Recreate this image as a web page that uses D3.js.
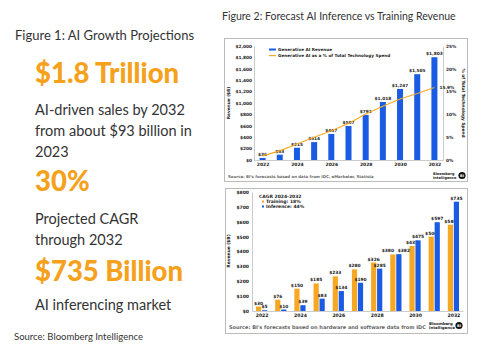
<!DOCTYPE html>
<html>
<head>
<meta charset="utf-8">
<script src="https://cdn.jsdelivr.net/npm/d3@7"></script>
<style>
  body { margin: 0; background: #fff; }
  svg { display: block; }
  .chartTxt { font-family: "DejaVu Sans", Verdana, sans-serif; font-weight: bold; fill: #222; }
  .fig { font-family: Lato, "Open Sans", sans-serif; }
</style>
</head>
<body>
<div id="chart"></div>
<script>
// figure 2, top panel
const years = [2022, 2023, 2024, 2025, 2026, 2027, 2028, 2029, 2030, 2031, 2032];
const genAiRevenue = [36, 93, 215, 314, 457, 597, 791, 1018, 1247, 1505, 1803];
const genAiShare = [0.9, 2.0, 3.5, 5.0, 6.4, 8.0, 10.1, 11.8, 13.4, 14.6, 15.9];
const revTicks = [0, 200, 400, 600, 800, 1000, 1200, 1400, 1600, 1800, 2000];
const shareTicks = [0, 5, 10, 15, 20, 25];

// figure 2, bottom panel
const training = [30, 76, 150, 185, 233, 280, 326, 380, 437, 500, 580];
const inference = [5, 10, 39, 83, 134, 190, 285, 382, 475, 597, 735];
const splitTicks = [0, 100, 200, 300, 400, 500, 600, 700, 800];
const yearLabels = [2022, 2024, 2026, 2028, 2030, 2032];

// figure 1 text
const headlines = [
    {big: "$1.8 Trillion", lines: ["AI-driven sales by 2032", "from about $93 billion in", "2023"]},
    {big: "30%", lines: ["Projected CAGR", "through 2032"]},
    {big: "$735 Billion", lines: ["AI inferencing market"]}
];

const W = 492, H = 345;
const orange = "#f7a823", blue = "#1a5be3", txtOrange = "#f5a11c";
const money = d => "$" + d3.format(",")(d);

const svg = d3.select("#chart").append("svg")
    .attr("width", W).attr("height", H);
svg.append("rect").attr("width", W).attr("height", H).attr("fill", "#fff");

// ---------- Figure 1 ----------
const leftG = svg.append("g").attr("class", "fig");
leftG.append("text").attr("x", 15).attr("y", 40)
    .attr("font-size", 13).attr("fill", "#333")
    .text("Figure 1: AI Growth Projections");

const bigY = [83, 191, 281];
const lineY = [[115, 136, 157], [224, 245], [310]];
headlines.forEach((h, i) => {
    leftG.append("text").attr("x", 35).attr("y", bigY[i])
        .attr("font-size", 27.5).attr("font-weight", 900).attr("fill", txtOrange)
        .text(h.big);
    h.lines.forEach((l, j) => {
        leftG.append("text").attr("x", 35).attr("y", lineY[i][j])
            .attr("font-size", 14.5).attr("fill", "#333").text(l);
    });
});
leftG.append("text").attr("x", 14).attr("y", 340)
    .attr("font-size", 9.5).attr("fill", "#333")
    .text("Source: Bloomberg Intelligence");

svg.append("text").attr("class", "fig").attr("x", 222).attr("y", 20)
    .attr("font-size", 10.5).attr("fill", "#333")
    .text("Figure 2: Forecast AI Inference vs Training Revenue");

function biLogo(g, x, y, sz, off) {
    g.append("text").attr("class", "chartTxt").attr("x", x).attr("y", y - 0.5)
        .attr("font-size", sz).attr("font-weight", "normal").text("Bloomberg");
    g.append("text").attr("class", "chartTxt").attr("x", x).attr("y", y + sz)
        .attr("font-size", sz).attr("font-weight", "normal").text("Intelligence");
    g.append("circle").attr("cx", x + off).attr("cy", y).attr("r", 3.6).attr("fill", "#111");
    g.append("text").attr("x", x + off).attr("y", y + 1.2).attr("text-anchor", "middle")
        .attr("font-size", 3.5).attr("font-weight", "bold").attr("fill", "#fff")
        .attr("font-family", "DejaVu Sans").text("BI");
}

// ---------- Figure 2 top ----------
const topG = svg.append("g");
topG.append("rect").attr("x", 224.5).attr("y", 38.5).attr("width", 243).attr("height", 143)
    .attr("fill", "#fff").attr("stroke", "#bbb").attr("stroke-width", 1);

const xT = d3.scalePoint().domain(years).range([254, 443]).padding(0.5);
const yT = d3.scaleLinear().domain([0, 2000]).range([160, 46]);
const yS = d3.scaleLinear().domain([0, 25]).range([160, 46]);

topG.append("g").attr("transform", "translate(254,0)")
    .call(d3.axisLeft(yT).tickValues(revTicks).tickFormat(money).tickSize(0).tickPadding(2))
    .call(g => g.select(".domain").attr("stroke", "#999").attr("stroke-width", 0.5))
    .selectAll("text").attr("class", "chartTxt").attr("font-size", 4.3);
topG.append("g").attr("transform", "translate(443,0)")
    .call(d3.axisRight(yS).tickValues(shareTicks).tickFormat(d => d + "%").tickSize(0).tickPadding(3))
    .call(g => g.select(".domain").attr("stroke", "#999").attr("stroke-width", 0.5))
    .selectAll("text").attr("class", "chartTxt").attr("font-size", 4.3);
topG.append("g").attr("transform", "translate(0,160)")
    .call(d3.axisBottom(xT).tickValues(yearLabels).tickSize(0).tickPadding(3))
    .call(g => g.select(".domain").attr("stroke", "#999").attr("stroke-width", 0.5))
    .selectAll("text").attr("class", "chartTxt").attr("font-size", 4.5);

topG.selectAll("rect.bar").data(years).enter().append("rect")
    .attr("class", "bar")
    .attr("x", d => xT(d) - 3).attr("width", 6)
    .attr("y", (d, i) => yT(genAiRevenue[i]))
    .attr("height", (d, i) => 160 - yT(genAiRevenue[i]))
    .attr("fill", blue);

topG.selectAll("text.val").data(years).enter().append("text")
    .attr("class", "chartTxt val")
    .attr("x", d => xT(d)).attr("y", (d, i) => yT(genAiRevenue[i]) - 2)
    .attr("text-anchor", "middle").attr("font-size", 4.3)
    .text((d, i) => money(genAiRevenue[i]));

const line = d3.line().x(d => xT(d)).y((d, i) => yS(genAiShare[i]));
topG.append("path").datum(years).attr("d", line)
    .attr("fill", "none").attr("stroke", orange).attr("stroke-width", 1.1);
topG.append("text").attr("class", "chartTxt")
    .attr("x", xT(2032) + 5).attr("y", yS(genAiShare[10]) + 1.5)
    .attr("font-size", 4.3).text(genAiShare[10] + "%");

// legend
topG.append("rect").attr("x", 269).attr("y", 48.5).attr("width", 7).attr("height", 2).attr("fill", blue);
topG.append("text").attr("class", "chartTxt").attr("x", 278).attr("y", 51)
    .attr("font-size", 4.2).text("Generative AI Revenue");
topG.append("rect").attr("x", 269).attr("y", 55).attr("width", 7).attr("height", 1.2).attr("fill", orange);
topG.append("text").attr("class", "chartTxt").attr("x", 278).attr("y", 57.3)
    .attr("font-size", 4.2).text("Generative AI as a % of Total Technology Spend");

topG.append("text").attr("class", "chartTxt").attr("font-size", 4.3)
    .attr("transform", "translate(230,103) rotate(-90)").attr("text-anchor", "middle")
    .text("Revenue ($B)");
topG.append("text").attr("class", "chartTxt").attr("font-size", 4.3)
    .attr("transform", "translate(462,103) rotate(90)").attr("text-anchor", "middle")
    .text("% of Total Technology Spend");

topG.append("text").attr("class", "chartTxt").attr("x", 228).attr("y", 178)
    .attr("font-size", 3.9).attr("font-weight", "normal")
    .style("fill", "#666").text("Source: BI's forecasts based on data from IDC, eMarketer, Statista");
biLogo(topG, 433, 175.5, 3.5, 29);

// ---------- Figure 2 bottom ----------
const botG = svg.append("g");
botG.append("rect").attr("x", 225.5).attr("y", 188.5).attr("width", 242).attr("height", 145)
    .attr("fill", "#fff").attr("stroke", "#bbb").attr("stroke-width", 1);

const xB = d3.scalePoint().domain(years).range([252, 463]).padding(0.5);
const yB = d3.scaleLinear().domain([0, 800]).range([311, 192]);

botG.append("g").attr("transform", "translate(252,0)")
    .call(d3.axisLeft(yB).tickValues(splitTicks).tickFormat(money).tickSize(0).tickPadding(3))
    .call(g => g.select(".domain").attr("stroke", "#999").attr("stroke-width", 0.5))
    .selectAll("text").attr("class", "chartTxt").attr("font-size", 4.5);
botG.append("g").attr("transform", "translate(0,311)")
    .call(d3.axisBottom(xB).tickValues(yearLabels).tickSize(0).tickPadding(3))
    .call(g => g.select(".domain").attr("stroke", "#999").attr("stroke-width", 0.5))
    .selectAll("text").attr("class", "chartTxt").attr("font-size", 4.6);

const series = [
    {vals: training, color: orange, dx: -3, side: -1},
    {vals: inference, color: blue, dx: 3, side: 1}
];
// labels whose bars are almost the same height get pushed apart
const close = i => Math.abs(training[i] - inference[i]) < 15;
series.forEach(s => {
    botG.selectAll(null).data(years).enter().append("rect")
        .attr("x", d => xB(d) + s.dx - 2.6).attr("width", 5.2)
        .attr("y", (d, i) => yB(s.vals[i]))
        .attr("height", (d, i) => 311 - yB(s.vals[i]))
        .attr("fill", s.color);
    botG.selectAll(null).data(years).enter().append("text")
        .attr("class", "chartTxt")
        .attr("x", (d, i) => xB(d) + s.dx + (close(i) ? s.side * 5 : 0))
        .attr("y", (d, i) => yB(s.vals[i]) - 2)
        .attr("text-anchor", "middle").attr("font-size", 4.4)
        .text((d, i) => money(s.vals[i]));
});

botG.append("text").attr("class", "chartTxt").attr("x", 259).attr("y", 198)
    .attr("font-size", 4.5).text("CAGR 2024-2032");
botG.append("rect").attr("x", 262).attr("y", 200.5).attr("width", 2).attr("height", 2).attr("fill", orange);
botG.append("text").attr("class", "chartTxt").attr("x", 266).attr("y", 202.8)
    .attr("font-size", 4.5).text("Training: 18%");
botG.append("rect").attr("x", 262).attr("y", 205.5).attr("width", 2).attr("height", 2).attr("fill", blue);
botG.append("text").attr("class", "chartTxt").attr("x", 266).attr("y", 207.8)
    .attr("font-size", 4.5).text("Inference: 44%");

botG.append("text").attr("class", "chartTxt").attr("font-size", 4.4)
    .attr("transform", "translate(230,251) rotate(-90)").attr("text-anchor", "middle")
    .text("Revenue ($B)");

botG.append("text").attr("class", "chartTxt").attr("x", 229).attr("y", 329)
    .attr("font-size", 5).attr("font-weight", "normal").style("fill", "#666")
    .text("Source: BI's forecasts based on hardware and software data from IDC");
biLogo(botG, 429, 325.5, 3.9, 30);
</script>
</body>
</html>
